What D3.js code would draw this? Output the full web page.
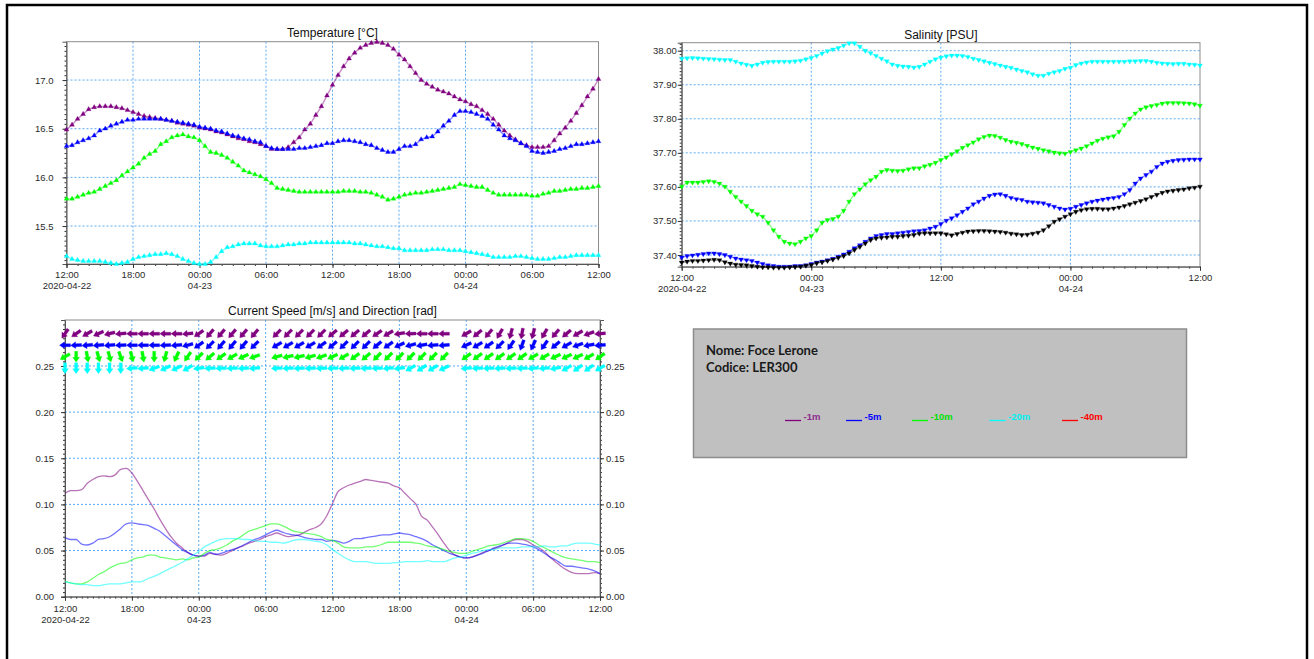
<!DOCTYPE html>
<html>
<head>
<meta charset="utf-8">
<script src="https://cdn.jsdelivr.net/npm/d3@7"></script>
<style>
  body { margin: 0; background: #fff; }
  svg text { font-family: "Liberation Sans", Arial, sans-serif; }
</style>
</head>
<body>
<svg id="chart" width="1314" height="659"></svg>
<script>
// time base: half-hourly samples from 2020-04-22 12:00 to 2020-04-24 12:00
const startTime = new Date(2020, 3, 22, 12, 0);
const endTime = new Date(2020, 3, 24, 12, 0);
const sampleMinutes = 30;   // temperature, salinity, speed
const arrowMinutes = 60;    // current direction arrows

const depthLabels = ['-1m', '-5m', '-10m', '-20m', '-40m'];
const depthColors = ['#800080', '#0000ff', '#00ff00', '#00ffff', '#ff0000'];
const depthTextColors = ['#8e2a8e', '#0000ff', '#00e000', '#00f0f0', '#ff0000'];

// Temperature [°C]
const tempPurple = [16.49,16.54,16.60,16.65,16.70,16.72,16.73,16.73,16.73,16.72,16.71,16.69,16.67,16.65,16.63,16.62,16.61,16.60,16.59,16.58,16.56,16.55,16.54,16.53,16.51,16.50,16.49,16.47,16.46,16.44,16.42,16.40,16.39,16.37,16.36,16.34,16.32,16.29,16.29,16.29,16.31,16.36,16.41,16.49,16.55,16.64,16.73,16.84,
  16.95,17.05,17.14,17.22,17.28,17.33,17.36,17.38,17.39,17.38,17.36,17.32,17.26,17.21,17.14,17.07,17.00,16.96,16.93,16.90,16.88,16.86,16.83,16.80,16.78,16.75,16.73,16.69,16.65,16.60,16.54,16.48,16.43,16.39,16.35,16.33,16.31,16.31,16.31,16.32,16.38,16.45,16.51,16.58,16.66,16.74,16.83,16.91,17.01];
const tempBlue = [16.32,16.33,16.36,16.38,16.40,16.43,16.48,16.50,16.53,16.55,16.57,16.59,16.59,16.60,16.60,16.60,16.60,16.60,16.59,16.58,16.57,16.56,16.55,16.54,16.52,16.51,16.50,16.48,16.47,16.45,16.43,16.42,16.40,16.39,16.37,16.36,16.32,16.30,16.29,16.29,16.29,16.29,16.30,16.30,16.31,16.32,16.33,16.35,
  16.35,16.37,16.38,16.38,16.37,16.36,16.34,16.33,16.30,16.28,16.26,16.26,16.29,16.32,16.32,16.34,16.39,16.41,16.42,16.47,16.53,16.58,16.64,16.68,16.68,16.67,16.65,16.63,16.60,16.54,16.49,16.43,16.40,16.38,16.35,16.32,16.27,16.26,16.25,16.26,16.27,16.29,16.30,16.32,16.34,16.34,16.35,16.36,16.37];
const tempGreen = [15.78,15.78,15.80,15.82,15.84,15.85,15.88,15.91,15.94,15.97,16.02,16.06,16.10,16.14,16.20,16.24,16.27,16.34,16.37,16.41,16.43,16.44,16.42,16.41,16.38,16.32,16.26,16.25,16.23,16.20,16.16,16.12,16.07,16.05,16.03,16.01,15.98,15.94,15.89,15.88,15.87,15.86,15.85,15.85,15.85,15.85,15.85,15.85,
  15.85,15.85,15.86,15.86,15.86,15.85,15.85,15.84,15.82,15.80,15.77,15.78,15.80,15.82,15.83,15.84,15.84,15.85,15.86,15.87,15.88,15.89,15.90,15.93,15.92,15.91,15.90,15.90,15.87,15.84,15.82,15.82,15.82,15.82,15.82,15.82,15.81,15.81,15.83,15.84,15.86,15.86,15.87,15.88,15.88,15.89,15.89,15.90,15.91];
const tempCyan = [15.19,15.16,15.15,15.14,15.14,15.14,15.14,15.13,15.12,15.11,15.12,15.13,15.16,15.18,15.19,15.20,15.21,15.21,15.22,15.21,15.19,15.16,15.14,15.12,15.11,15.11,15.13,15.18,15.24,15.28,15.29,15.31,15.32,15.32,15.32,15.30,15.29,15.29,15.29,15.30,15.31,15.31,15.32,15.32,15.33,15.33,15.33,15.33,
  15.33,15.33,15.33,15.33,15.32,15.32,15.31,15.30,15.29,15.29,15.28,15.27,15.27,15.25,15.25,15.25,15.25,15.25,15.26,15.26,15.26,15.25,15.25,15.25,15.24,15.23,15.22,15.21,15.20,15.18,15.18,15.18,15.18,15.19,15.19,15.18,15.17,15.16,15.16,15.16,15.17,15.18,15.18,15.19,15.20,15.20,15.20,15.20,15.20];

// Salinity [PSU]
const salCyan = [37.977,37.978,37.979,37.978,37.977,37.976,37.975,37.974,37.973,37.973,37.968,37.963,37.959,37.956,37.960,37.965,37.967,37.968,37.968,37.968,37.968,37.969,37.971,37.975,37.979,37.985,37.992,37.999,38.004,38.008,38.015,38.022,38.022,38.012,38.000,37.993,37.985,37.977,37.969,37.960,37.956,37.954,37.953,37.951,
  37.953,37.960,37.968,37.975,37.980,37.984,37.986,37.986,37.985,37.982,37.977,37.973,37.969,37.965,37.961,37.957,37.953,37.950,37.945,37.941,37.937,37.931,37.927,37.927,37.933,37.937,37.941,37.947,37.950,37.958,37.963,37.966,37.968,37.968,37.968,37.968,37.968,37.968,37.968,37.969,37.969,37.970,37.970,37.968,37.965,37.963,37.962,37.961,37.962,37.962,37.960,37.959,37.957];
const salGreen = [37.601,37.613,37.613,37.613,37.615,37.617,37.615,37.610,37.601,37.586,37.571,37.557,37.544,37.530,37.520,37.513,37.495,37.473,37.454,37.439,37.434,37.432,37.439,37.449,37.456,37.473,37.495,37.503,37.506,37.513,37.530,37.557,37.579,37.593,37.608,37.620,37.630,37.645,37.650,37.648,37.647,37.648,37.652,37.655,
  37.655,37.661,37.665,37.671,37.679,37.687,37.696,37.705,37.715,37.723,37.731,37.740,37.747,37.751,37.750,37.745,37.738,37.733,37.730,37.726,37.721,37.716,37.712,37.708,37.705,37.701,37.699,37.698,37.703,37.708,37.713,37.720,37.728,37.736,37.742,37.746,37.749,37.762,37.782,37.801,37.816,37.828,37.834,37.838,37.841,37.845,37.847,37.847,37.847,37.846,37.845,37.843,37.839];
const salBlue = [37.393,37.397,37.399,37.401,37.403,37.405,37.405,37.403,37.400,37.395,37.390,37.387,37.385,37.383,37.378,37.374,37.370,37.368,37.366,37.366,37.366,37.368,37.368,37.370,37.374,37.378,37.381,37.385,37.389,37.395,37.402,37.410,37.420,37.429,37.439,37.449,37.456,37.459,37.462,37.462,37.464,37.466,37.468,37.470,
  37.471,37.473,37.478,37.483,37.491,37.501,37.508,37.517,37.527,37.537,37.549,37.557,37.566,37.574,37.578,37.579,37.574,37.568,37.564,37.562,37.557,37.555,37.554,37.552,37.547,37.542,37.537,37.534,37.536,37.542,37.547,37.552,37.557,37.560,37.563,37.566,37.568,37.571,37.579,37.591,37.610,37.625,37.635,37.645,37.659,37.669,37.674,37.677,37.679,37.680,37.681,37.681,37.681];
const salBlack = [37.378,37.381,37.383,37.383,37.384,37.385,37.386,37.385,37.379,37.375,37.372,37.371,37.370,37.368,37.366,37.364,37.364,37.363,37.363,37.363,37.364,37.365,37.366,37.369,37.371,37.376,37.379,37.383,37.387,37.392,37.397,37.405,37.415,37.424,37.434,37.444,37.449,37.451,37.452,37.454,37.454,37.456,37.457,37.459,
  37.463,37.464,37.464,37.464,37.464,37.461,37.458,37.462,37.466,37.469,37.470,37.471,37.471,37.470,37.469,37.468,37.466,37.463,37.461,37.459,37.460,37.463,37.466,37.473,37.485,37.498,37.505,37.513,37.520,37.527,37.532,37.535,37.536,37.536,37.535,37.535,37.537,37.540,37.544,37.549,37.554,37.559,37.564,37.571,37.577,37.583,37.587,37.589,37.591,37.593,37.596,37.598,37.601];

// Current speed [m/s]
const speedPurple = [0.112,0.115,0.115,0.116,0.123,0.127,0.130,0.131,0.130,0.132,0.138,0.139,0.134,0.125,0.115,0.105,0.095,0.084,0.074,0.065,0.058,0.053,0.048,0.045,0.044,0.044,0.047,0.046,0.045,0.047,0.050,0.053,0.055,0.058,0.060,0.062,0.065,0.067,0.069,0.067,0.065,0.066,0.067,0.070,0.073,0.075,0.079,0.088,
  0.101,0.114,0.118,0.121,0.123,0.125,0.127,0.126,0.125,0.124,0.123,0.120,0.118,0.112,0.106,0.100,0.087,0.083,0.075,0.067,0.058,0.050,0.045,0.043,0.042,0.043,0.045,0.048,0.050,0.052,0.054,0.057,0.060,0.062,0.062,0.060,0.056,0.053,0.049,0.043,0.038,0.033,0.029,0.026,0.025,0.025,0.025,0.026,0.025];
const speedBlue = [0.064,0.062,0.062,0.057,0.056,0.058,0.062,0.063,0.065,0.069,0.074,0.079,0.080,0.079,0.078,0.077,0.074,0.071,0.066,0.061,0.056,0.051,0.048,0.045,0.044,0.045,0.048,0.046,0.047,0.049,0.051,0.053,0.056,0.059,0.062,0.064,0.067,0.070,0.072,0.070,0.068,0.067,0.066,0.064,0.063,0.062,0.062,0.060,
  0.061,0.060,0.058,0.060,0.063,0.063,0.064,0.065,0.066,0.067,0.067,0.068,0.069,0.068,0.067,0.065,0.063,0.060,0.056,0.053,0.050,0.047,0.045,0.043,0.042,0.043,0.045,0.047,0.050,0.053,0.055,0.057,0.058,0.058,0.057,0.056,0.054,0.051,0.047,0.043,0.040,0.036,0.033,0.033,0.032,0.031,0.030,0.028,0.025];
const speedGreen = [0.017,0.015,0.014,0.014,0.016,0.020,0.024,0.027,0.031,0.034,0.036,0.037,0.040,0.042,0.043,0.045,0.045,0.043,0.042,0.041,0.040,0.041,0.040,0.042,0.043,0.047,0.050,0.051,0.053,0.056,0.060,0.063,0.067,0.071,0.073,0.075,0.077,0.079,0.079,0.077,0.074,0.071,0.070,0.069,0.068,0.067,0.065,0.062,
  0.061,0.058,0.054,0.053,0.053,0.053,0.054,0.054,0.055,0.057,0.059,0.059,0.059,0.059,0.059,0.058,0.057,0.055,0.054,0.053,0.051,0.049,0.048,0.047,0.047,0.049,0.051,0.053,0.055,0.056,0.057,0.059,0.061,0.063,0.063,0.062,0.060,0.056,0.053,0.050,0.047,0.044,0.042,0.041,0.040,0.039,0.038,0.038,0.037];
const speedCyan = [0.016,0.015,0.014,0.013,0.013,0.012,0.012,0.013,0.014,0.014,0.014,0.015,0.016,0.016,0.017,0.020,0.022,0.025,0.028,0.031,0.034,0.037,0.041,0.045,0.049,0.054,0.057,0.060,0.062,0.063,0.063,0.063,0.062,0.062,0.061,0.060,0.060,0.059,0.059,0.058,0.059,0.061,0.062,0.062,0.061,0.060,0.059,0.056,
  0.051,0.047,0.043,0.040,0.038,0.038,0.038,0.037,0.036,0.036,0.036,0.037,0.037,0.038,0.038,0.038,0.038,0.039,0.038,0.038,0.038,0.040,0.042,0.043,0.045,0.047,0.048,0.050,0.051,0.051,0.053,0.053,0.053,0.053,0.054,0.054,0.054,0.054,0.055,0.054,0.054,0.055,0.055,0.057,0.058,0.058,0.058,0.057,0.056];

// Current direction (compass degrees the arrow points to), hourly; null = missing
const dirPurple = [215,235,240,245,255,265,270,270,270,270,270,265,235,220,220,220,220,220,null,225,225,225,225,225,230,230,230,230,235,240,260,268,270,270,270,null,240,230,220,210,195,190,195,210,220,230,240,250,265];
const dirBlue = [270,268,265,265,265,268,270,270,270,268,265,255,235,225,220,220,220,225,null,240,240,240,240,235,230,225,225,225,230,235,245,255,260,265,265,null,245,240,235,225,215,200,205,215,230,240,250,260,265];
const dirGreen = [240,180,170,165,165,160,165,170,180,195,205,215,225,230,235,240,245,250,null,255,258,258,255,250,245,240,235,230,225,225,225,225,225,225,225,null,235,235,235,235,235,235,240,240,245,245,245,240,235];
const dirCyan = [180,180,180,180,180,180,265,265,250,245,245,240,262,268,268,268,268,265,null,268,268,268,268,268,268,268,268,268,268,265,262,240,238,240,245,null,265,268,268,268,268,268,265,265,260,240,235,235,240];
const arrowLevels = [0.285, 0.2725, 0.26, 0.2475];

// tick values
const tempTicks = [15.5, 16.0, 16.5, 17.0];
const salTicks = [37.40, 37.50, 37.60, 37.70, 37.80, 37.90, 38.00];
const speedTicks = [0.00, 0.05, 0.10, 0.15, 0.20, 0.25];

const svg = d3.select('#chart');
const hm = d3.timeFormat('%H:%M');
const ymd = d3.timeFormat('%Y-%m-%d');
const md = d3.timeFormat('%m-%d');

function timeAt(i, minutes) {
  return new Date(startTime.getTime() + i * minutes * 60000);
}

// page frame
svg.append('rect')
  .attr('x', 7).attr('y', 5).attr('width', 1300).attr('height', 662)
  .attr('fill', 'none').attr('stroke', '#000').attr('stroke-width', 2.5);

function drawPanel(p) {
  const x = d3.scaleTime().domain([startTime, endTime]).range([p.left, p.right]);
  const y = d3.scaleLinear().domain(p.yDomain).range([p.bottom, p.top]);
  const g = svg.append('g');

  // grid
  const xMajor = d3.timeHour.every(p.xMajorHours).range(startTime, new Date(+endTime + 1));
  g.selectAll('.vgrid').data(xMajor.slice(1, -1)).enter().append('line')
    .attr('x1', d => x(d)).attr('x2', d => x(d))
    .attr('y1', p.top).attr('y2', p.bottom)
    .attr('stroke', '#5aaaf5').attr('stroke-dasharray', '2,2');
  g.selectAll('.hgrid').data(p.yTicks.filter(v => y(v) < p.bottom - 1)).enter().append('line')
    .attr('x1', p.left).attr('x2', p.right)
    .attr('y1', d => y(d)).attr('y2', d => y(d))
    .attr('stroke', '#5aaaf5').attr('stroke-dasharray', '2,2');

  g.append('rect')
    .attr('x', p.left).attr('y', p.top)
    .attr('width', p.right - p.left).attr('height', p.bottom - p.top)
    .attr('fill', 'none').attr('stroke', '#8c8c8c');

  // y axes
  const yMinor = d3.range(Math.ceil(p.yDomain[0] / p.yMinor), Math.floor(p.yDomain[1] / p.yMinor) + 1)
    .map(k => k * p.yMinor);
  const sides = p.rightAxis ? ['left', 'right'] : ['left'];
  sides.forEach(side => {
    const xPos = side === 'left' ? p.left : p.right;
    const axisFn = side === 'left' ? d3.axisLeft : d3.axisRight;
    g.append('g').attr('transform', `translate(${xPos},0)`)
      .call(axisFn(y).tickValues(yMinor).tickSize(2).tickFormat(''))
      .call(a => a.select('.domain').remove());
    g.append('g').attr('class', 'yaxis').attr('transform', `translate(${xPos},0)`)
      .call(axisFn(y).tickValues(p.yTicks).tickSize(4)
        .tickPadding(side === 'left' ? p.yPad : p.yPadRight).tickFormat(d3.format(p.fmt)))
      .call(a => a.select('.domain').attr('stroke', '#555'));
  });

  // x axis
  const xMinor = d3.timeMinute.every(p.xMinorMinutes).range(startTime, new Date(+endTime + 1));
  g.append('g').attr('transform', `translate(0,${p.bottom})`)
    .call(d3.axisBottom(x).tickValues(xMinor).tickSize(2).tickFormat(''))
    .call(a => a.select('.domain').remove());
  const xa = g.append('g').attr('transform', `translate(0,${p.bottom})`)
    .call(d3.axisBottom(x).tickValues(xMajor).tickSize(4).tickPadding(p.xPad).tickFormat(hm))
    .call(a => a.select('.domain').attr('stroke', '#555'));
  xa.selectAll('.tick text').each(function(d, i) {
    const t = d3.select(this);
    let second = null;
    if (i === 0) second = ymd(d);
    else if (d.getHours() === 0) second = md(d);
    if (second) {
      t.append('tspan').attr('x', 0).attr('dy', '1.15em').text(second);
    }
  });

  g.selectAll('.tick line').attr('stroke', '#333');
  g.selectAll('.tick text')
    .attr('fill', '#2b2b2b')
    .style('font-family', '"Liberation Sans", Arial, sans-serif')
    .style('font-size', '9.5px');

  g.append('text')
    .attr('x', (p.left + p.right) / 2).attr('y', p.titleY)
    .attr('text-anchor', 'middle')
    .style('font-size', '12px').attr('fill', '#111')
    .text(p.title);

  return { x, y, g };
}

// ---- Temperature
const tempSeries = [
  { values: tempPurple, color: depthColors[0] },
  { values: tempBlue, color: depthColors[1] },
  { values: tempGreen, color: depthColors[2] },
  { values: tempCyan, color: depthColors[3] }
];
const tp = drawPanel({
  left: 66.5, right: 598.5, top: 41.7, bottom: 264,
  yDomain: [15.11, 17.394], yTicks: tempTicks, yMinor: 0.05, fmt: '.1f',
  yPad: 9, xMajorHours: 6, xMinorMinutes: 60, xPad: 3.5,
  title: 'Temperature [°C]', titleY: 37
});
drawMarkerSeries(tp, tempSeries, 0);

// ---- Salinity
const salSeries = [
  { values: salCyan, color: depthColors[3] },
  { values: salGreen, color: depthColors[2] },
  { values: salBlue, color: depthColors[1] },
  { values: salBlack, color: '#000000' }
];
const sp = drawPanel({
  left: 681.7, right: 1200, top: 42.7, bottom: 266.7,
  yDomain: [37.3656, 38.0235], yTicks: salTicks, yMinor: 0.01, fmt: '.2f',
  yPad: 1, xMajorHours: 12, xMinorMinutes: 60, xPad: 4,
  title: 'Salinity [PSU]', titleY: 38.5
});
drawMarkerSeries(sp, salSeries, 180);

function drawMarkerSeries(panel, series, rot) {
  const sym = d3.symbol().type(d3.symbolTriangle).size(10);
  series.forEach(s => {
    const pts = s.values.map((v, i) => [panel.x(timeAt(i, sampleMinutes)), panel.y(v)]);
    panel.g.append('path')
      .attr('d', d3.line()(pts))
      .attr('fill', 'none').attr('stroke', s.color)
      .attr('stroke-opacity', 0.45).attr('stroke-width', 1.4);
    panel.g.append('g').selectAll('path').data(pts).enter().append('path')
      .attr('d', sym)
      .attr('transform', d => `translate(${d[0]},${d[1]}) rotate(${rot})`)
      .attr('fill', s.color)
      .attr('stroke', s.color).attr('stroke-opacity', 0.3).attr('stroke-width', 1);
  });
}

// ---- Current speed and direction
const cp = drawPanel({
  left: 65, right: 600, top: 320, bottom: 596.7,
  yDomain: [0, 0.2998], yTicks: speedTicks, yMinor: 0.005, fmt: '.2f',
  yPad: 7, yPadRight: 2, rightAxis: true, xMajorHours: 6, xMinorMinutes: 30, xPad: 5,
  title: 'Current Speed [m/s] and Direction [rad]', titleY: 315
});

const speedSeries = [speedPurple, speedBlue, speedGreen, speedCyan];
speedSeries.forEach((vals, k) => {
  const line = d3.line()
    .x((v, i) => cp.x(timeAt(i, sampleMinutes)))
    .y(v => cp.y(v))
    .curve(d3.curveMonotoneX);
  cp.g.append('path')
    .attr('d', line(vals))
    .attr('fill', 'none').attr('stroke', depthColors[k])
    .attr('stroke-opacity', 0.55).attr('stroke-width', 1.3);
});

const dirSeries = [dirPurple, dirBlue, dirGreen, dirCyan];
const arrowShape = 'M-5.5,-1.5L0.5,-1.5L0.5,-3.4L5.5,0L0.5,3.4L0.5,1.5L-5.5,1.5Z';
dirSeries.forEach((dirs, k) => {
  const yRow = cp.y(arrowLevels[k]);
  cp.g.append('g').selectAll('path')
    .data(dirs.map((d, i) => ({ d, t: timeAt(i, arrowMinutes) })).filter(o => o.d !== null))
    .enter().append('path')
    .attr('d', arrowShape)
    .attr('transform', o => `translate(${cp.x(o.t)},${yRow}) rotate(${o.d - 90})`)
    .attr('fill', depthColors[k])
    .attr('stroke', depthColors[k]).attr('stroke-opacity', 0.35).attr('stroke-width', 0.8);
});

// ---- Station info box with legend
const box = svg.append('g');
box.append('rect')
  .attr('x', 693.5).attr('y', 329).attr('width', 493).attr('height', 128.5)
  .attr('fill', '#c0c0c0').attr('stroke', '#8c8c8c').attr('stroke-width', 1.5);
box.append('text').attr('x', 706).attr('y', 354.5)
  .style('font-family', 'Lato, "Open Sans", sans-serif')
  .style('font-weight', 'bold').style('font-size', '13px').attr('fill', '#1a1a1a')
  .text('Nome: Foce Lerone');
box.append('text').attr('x', 706).attr('y', 371.5)
  .style('font-family', 'Lato, "Open Sans", sans-serif')
  .style('font-weight', 'bold').style('font-size', '13px').attr('fill', '#1a1a1a')
  .text('Codice: LER300');

const legendX = [785, 846, 912, 989.5, 1062];
depthLabels.forEach((lab, k) => {
  box.append('line')
    .attr('x1', legendX[k]).attr('x2', legendX[k] + 16)
    .attr('y1', 420.5).attr('y2', 420.5)
    .attr('stroke', depthColors[k]).attr('stroke-width', 1.3);
  box.append('text')
    .attr('x', legendX[k] + 18.5).attr('y', 419.5)
    .style('font-weight', 'bold').style('font-size', '9.5px')
    .attr('fill', depthTextColors[k])
    .text(lab);
});
</script>
</body>
</html>
